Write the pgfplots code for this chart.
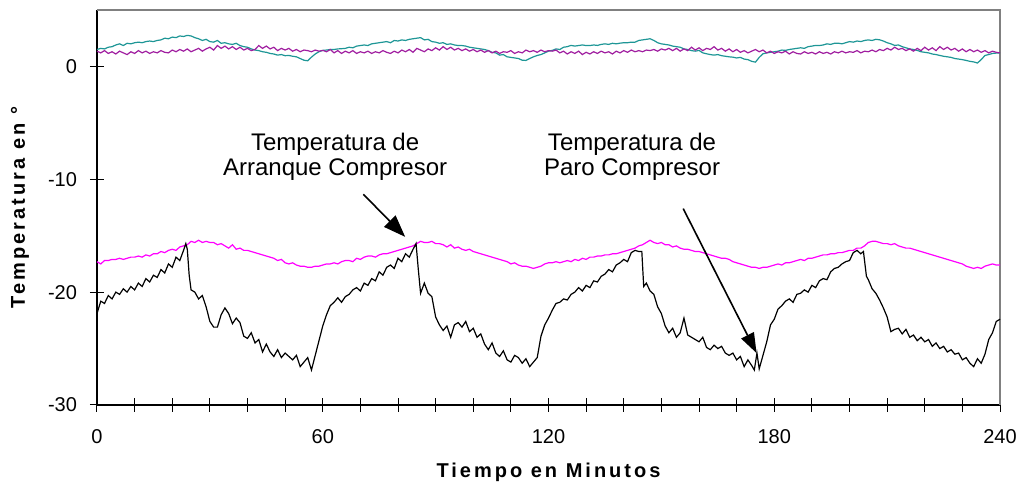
\documentclass[border=0pt]{standalone}
\usepackage{pgfplots}
\pgfplotsset{compat=1.18}
\usetikzlibrary{arrows.meta}
\usepackage{fontspec}
\setmainfont{Liberation Sans}
\definecolor{tealc}{RGB}{30,150,150}
\definecolor{purp}{RGB}{160,30,160}
\definecolor{magc}{RGB}{255,0,255}
\begin{document}
\begin{tikzpicture}
\begin{axis}[name=ax, scale only axis, width=451.5pt, height=197.5pt,
 xmin=0, xmax=240, ymin=-30, ymax=5,
 axis x line*=bottom, axis y line*=left,
 axis line style={line width=0.8pt, black},
 xtick={0,60,...,240}, minor xtick={10,20,...,230}, ytick={-30,-20,-10,0},
 tick align=center, major tick length=7pt, minor tick length=7pt,
 every tick/.style={black, line width=0.5pt},
 ticklabel style={font=\fontsize{10}{12}\selectfont},
 /pgf/number format/assume math mode=true,
 xticklabel style={yshift=-5pt}, yticklabel style={xshift=-3pt},
 xlabel={Tiempo en Minutos}, ylabel={Temperatura en °},
 label style={font=\fontsize{10}{12}\selectfont\bfseries\addfontfeatures{LetterSpace=15}},
 xlabel style={at={(axis description cs:0.5,-0.17)}, anchor=center},
 ylabel style={at={(axis description cs:-0.0853,0.5)}, anchor=center},
 clip=false]
\draw[color=gray, line width=1pt] (rel axis cs:0,1) -- (rel axis cs:1,1) -- (rel axis cs:1,0);
% teal
\addplot[tealc, line width=0.6pt] coordinates {
(0,1.5)(1,1.6)(2,1.55)(3,1.7)(4,1.75)(5,1.9)(6,2.0)(7,1.85)(8,2.05)(9,2.0)(10,2.1)(11,2.15)(12,2.1)(13,2.2)(14,2.25)(15,2.2)(16,2.3)(17,2.35)(18,2.5)(19,2.45)(20,2.6)(21,2.55)(22,2.7)(23,2.65)(24,2.75)(25,2.7)(26,2.55)(27,2.45)(28,2.3)(29,2.4)(30,2.2)(31,2.15)(32,2.3)(33,2.05)(34,2.1)(35,2.0)(36,1.95)(37,2.05)(38,1.85)(39,1.75)(40,1.7)(41,1.55)(42,1.45)(43,1.4)(44,1.3)(45,1.25)(46,1.15)(47,1.1)(48,1.0)(49,1.05)(50,0.95)(51,0.97)(52,0.9)(53,0.85)(54,0.7)(55,0.55)(56,0.5)(57,0.82)(58,1.1)(59,1.3)(60,1.42)(61,1.45)(62,1.5)(63,1.5)(64,1.55)(65,1.57)(66,1.6)(67,1.7)(68,1.65)(69,1.8)(70,1.85)(71,1.9)(72,1.85)(73,2.0)(74,2.05)(75,2.1)(76,2.15)(77,2.2)(78,2.1)(79,2.3)(80,2.25)(81,2.35)(82,2.3)(83,2.4)(84,2.45)(85,2.5)(86,2.55)(87,2.35)(88,2.4)(89,2.2)(90,2.15)(91,2.05)(92,2.1)(93,1.95)(94,2.0)(95,1.9)(96,1.85)(97,1.85)(98,1.8)(99,1.7)(100,1.65)(101,1.6)(102,1.55)(103,1.5)(104,1.4)(105,1.25)(106,1.2)(107,1.0)(108,1.05)(109,0.85)(110,0.8)(111,0.75)(112,0.7)(113,0.55)(114,0.53)(115,0.7)(116,0.85)(117,0.97)(118,1.05)(119,1.2)(120,1.35)(121,1.42)(122,1.55)(123,1.5)(124,1.7)(125,1.75)(126,1.86)(127,1.8)(128,1.85)(129,1.9)(130,1.85)(131,1.85)(132,1.9)(133,1.86)(134,1.95)(135,2.0)(136,1.95)(137,2.05)(138,2.0)(139,2.06)(140,2.1)(141,2.1)(142,2.15)(143,2.15)(144,2.3)(145,2.35)(146,2.4)(147,2.45)(148,2.3)(149,2.1)(150,2.0)(151,1.95)(152,1.9)(153,1.8)(154,1.75)(155,1.7)(156,1.55)(157,1.5)(158,1.4)(159,1.35)(160,1.42)(161,1.2)(162,1.12)(163,1.05)(164,1.0)(165,1.05)(166,0.95)(167,0.9)(168,0.85)(169,0.82)(170,0.75)(171,0.8)(172,0.65)(173,0.6)(174,0.45)(175,0.38)(176,0.8)(177,1.12)(178,1.2)(179,1.25)(180,1.3)(181,1.35)(182,1.45)(183,1.42)(184,1.5)(185,1.55)(186,1.6)(187,1.65)(188,1.6)(189,1.75)(190,1.8)(191,1.86)(192,1.85)(193,1.9)(194,2.0)(195,1.95)(196,2.05)(197,2.06)(198,2.0)(199,2.1)(200,2.2)(201,2.15)(202,2.25)(203,2.2)(204,2.3)(205,2.35)(206,2.3)(207,2.4)(208,2.36)(209,2.25)(210,2.1)(211,2.0)(212,1.86)(213,1.9)(214,1.75)(215,1.65)(216,1.55)(217,1.5)(218,1.42)(219,1.3)(220,1.25)(221,1.2)(222,1.1)(223,1.05)(224,0.97)(225,0.9)(226,0.85)(227,0.8)(228,0.7)(229,0.65)(230,0.6)(231,0.53)(232,0.45)(233,0.4)(234,0.3)(235,0.6)(236,0.97)(237,1.05)(238,1.15)(239,1.18)(240,1.2)
};
% purple
\addplot[purp, line width=0.6pt] coordinates {
(0,1.35)(1,1.2)(2,1.4)(3,1.15)(4,1.3)(5,1.1)(6,1.35)(7,1.2)(8,1.05)(9,1.3)(10,1.15)(11,1.4)(12,1.2)(13,1.35)(14,1.15)(15,1.3)(16,1.2)(17,1.4)(18,1.25)(19,1.2)(20,1.45)(21,1.3)(22,1.5)(23,1.35)(24,1.55)(25,1.3)(26,1.45)(27,1.6)(28,1.35)(29,1.55)(30,1.7)(31,1.45)(32,1.85)(33,1.6)(34,1.8)(35,1.55)(36,1.75)(37,1.5)(38,1.7)(39,1.45)(40,1.6)(41,1.4)(42,1.5)(43,1.85)(44,1.6)(45,1.8)(46,1.55)(47,1.7)(48,1.4)(49,1.6)(50,1.45)(51,1.6)(52,1.35)(53,1.5)(54,1.3)(55,1.45)(56,1.4)(57,1.3)(58,1.45)(59,1.35)(60,1.42)(61,1.3)(62,1.5)(63,1.2)(64,1.4)(65,1.15)(66,1.35)(67,1.2)(68,1.4)(69,1.15)(70,1.3)(71,1.2)(72,1.35)(73,1.15)(74,1.3)(75,1.2)(76,1.4)(77,1.25)(78,1.15)(79,1.35)(80,1.2)(81,1.45)(82,1.3)(83,1.5)(84,1.25)(85,1.6)(86,1.45)(87,1.3)(88,1.55)(89,1.4)(90,1.65)(91,1.45)(92,1.75)(93,1.5)(94,1.7)(95,1.45)(96,1.6)(97,1.4)(98,1.55)(99,1.35)(100,1.5)(101,1.3)(102,1.45)(103,1.25)(104,1.4)(105,1.2)(106,1.35)(107,1.15)(108,1.3)(109,1.25)(110,1.4)(111,1.15)(112,1.3)(113,1.2)(114,1.45)(115,1.3)(116,1.4)(117,1.25)(118,1.45)(119,1.3)(120,1.4)(121,1.35)(122,1.45)(123,1.2)(124,1.35)(125,1.1)(126,1.3)(127,1.15)(128,1.35)(129,1.05)(130,1.25)(131,1.1)(132,1.3)(133,1.15)(134,1.35)(135,1.2)(136,1.3)(137,1.1)(138,1.35)(139,1.2)(140,1.4)(141,1.25)(142,1.45)(143,1.3)(144,1.4)(145,1.3)(146,1.45)(147,1.4)(148,1.5)(149,1.35)(150,1.55)(151,1.45)(152,1.6)(153,1.4)(154,1.6)(155,1.35)(156,1.55)(157,1.4)(158,1.7)(159,1.45)(160,1.65)(161,1.4)(162,1.6)(163,1.5)(164,1.75)(165,1.45)(166,1.6)(167,1.35)(168,1.55)(169,1.3)(170,1.5)(171,1.25)(172,1.4)(173,1.2)(174,1.35)(175,1.5)(176,1.3)(177,1.45)(178,1.2)(179,1.35)(180,1.15)(181,1.3)(182,1.2)(183,1.35)(184,1.1)(185,1.3)(186,1.15)(187,1.1)(188,1.3)(189,1.15)(190,1.25)(191,1.1)(192,1.3)(193,1.15)(194,1.25)(195,1.1)(196,1.3)(197,1.2)(198,1.35)(199,1.2)(200,1.3)(201,1.25)(202,1.4)(203,1.2)(204,1.35)(205,1.3)(206,1.45)(207,1.3)(208,1.5)(209,1.4)(210,1.6)(211,1.45)(212,1.7)(213,1.5)(214,1.6)(215,1.4)(216,1.55)(217,1.35)(218,1.6)(219,1.4)(220,1.7)(221,1.45)(222,1.65)(223,1.4)(224,1.75)(225,1.5)(226,1.7)(227,1.45)(228,1.6)(229,1.35)(230,1.55)(231,1.3)(232,1.5)(233,1.3)(234,1.45)(235,1.25)(236,1.4)(237,1.2)(238,1.35)(239,1.25)(240,1.2)
};
% magenta
\addplot[magc, line width=0.6pt] coordinates {
(0,-17.3)(1,-17.5)(2,-17.2)(3,-17.2)(4,-17.1)(5,-17.1)(6,-17.0)(7,-17.1)(8,-17.0)(9,-16.9)(10,-16.9)(11,-16.8)(12,-16.9)(13,-16.7)(14,-16.8)(15,-16.6)(16,-16.6)(17,-16.4)(18,-16.5)(19,-16.3)(20,-16.2)(21,-16.3)(22,-16.0)(23,-15.9)(24,-15.8)(25,-15.5)(26,-15.6)(27,-15.4)(28,-15.6)(29,-15.5)(30,-15.6)(31,-15.6)(32,-15.8)(33,-15.7)(34,-15.9)(35,-16.1)(36,-15.8)(37,-16.2)(38,-16.1)(39,-16.3)(40,-16.3)(41,-16.4)(42,-16.5)(43,-16.6)(44,-16.7)(45,-16.8)(46,-16.9)(47,-17.0)(48,-17.2)(49,-17.1)(50,-17.4)(51,-17.5)(52,-17.4)(53,-17.6)(54,-17.7)(55,-17.7)(56,-17.8)(57,-17.8)(58,-17.7)(59,-17.7)(60,-17.6)(61,-17.5)(62,-17.5)(63,-17.4)(64,-17.5)(65,-17.3)(66,-17.2)(67,-17.2)(68,-17.3)(69,-17.0)(70,-17.1)(71,-16.9)(72,-16.8)(73,-16.8)(74,-16.9)(75,-16.7)(76,-16.6)(77,-16.6)(78,-16.5)(79,-16.4)(80,-16.3)(81,-16.2)(82,-16.1)(83,-16.0)(84,-15.9)(85,-15.7)(86,-15.5)(87,-15.6)(88,-15.6)(89,-15.5)(90,-15.7)(91,-15.7)(92,-15.8)(93,-16.0)(94,-15.8)(95,-16.1)(96,-16.0)(97,-16.2)(98,-16.3)(99,-16.2)(100,-16.4)(101,-16.5)(102,-16.6)(103,-16.7)(104,-16.8)(105,-16.9)(106,-17.0)(107,-17.1)(108,-17.2)(109,-17.3)(110,-17.5)(111,-17.4)(112,-17.6)(113,-17.7)(114,-17.7)(115,-17.8)(116,-17.9)(117,-17.8)(118,-17.7)(119,-17.5)(120,-17.4)(121,-17.4)(122,-17.3)(123,-17.4)(124,-17.3)(125,-17.2)(126,-17.3)(127,-17.1)(128,-17.2)(129,-17.0)(130,-17.1)(131,-16.9)(132,-16.9)(133,-16.8)(134,-16.8)(135,-16.7)(136,-16.7)(137,-16.6)(138,-16.6)(139,-16.5)(140,-16.4)(141,-16.3)(142,-16.2)(143,-16.1)(144,-15.9)(145,-15.8)(146,-15.6)(147,-15.4)(148,-15.6)(149,-15.7)(150,-15.6)(151,-15.8)(152,-15.8)(153,-16.0)(154,-15.9)(155,-16.1)(156,-16.2)(157,-16.2)(158,-16.3)(159,-16.4)(160,-16.4)(161,-16.5)(162,-16.6)(163,-16.7)(164,-16.8)(165,-16.9)(166,-17.0)(167,-17.0)(168,-17.1)(169,-17.3)(170,-17.4)(171,-17.5)(172,-17.6)(173,-17.7)(174,-17.8)(175,-17.8)(176,-17.9)(177,-17.8)(178,-17.8)(179,-17.7)(180,-17.6)(181,-17.5)(182,-17.6)(183,-17.4)(184,-17.4)(185,-17.3)(186,-17.2)(187,-17.1)(188,-17.2)(189,-17.0)(190,-17.0)(191,-16.9)(192,-16.8)(193,-16.7)(194,-16.7)(195,-16.6)(196,-16.6)(197,-16.5)(198,-16.5)(199,-16.4)(200,-16.3)(201,-16.3)(202,-16.1)(203,-16.1)(204,-15.9)(205,-15.6)(206,-15.5)(207,-15.5)(208,-15.6)(209,-15.7)(210,-15.7)(211,-15.8)(212,-15.7)(213,-15.9)(214,-16.0)(215,-16.1)(216,-16.1)(217,-16.2)(218,-16.3)(219,-16.4)(220,-16.5)(221,-16.6)(222,-16.7)(223,-16.8)(224,-16.9)(225,-17.0)(226,-17.1)(227,-17.2)(228,-17.3)(229,-17.4)(230,-17.5)(231,-17.7)(232,-17.8)(233,-17.9)(234,-17.8)(235,-17.9)(236,-17.7)(237,-17.6)(238,-17.5)(239,-17.6)(240,-17.6)
};
% black
\addplot[black, line width=0.6pt] coordinates {
(0,-21.9)(1,-20.8)(2,-21.0)(3,-20.3)(4,-20.6)(5,-20.0)(6,-20.2)(7,-19.7)(8,-20.0)(9,-19.5)(10,-19.8)(11,-19.2)(12,-19.5)(13,-18.8)(14,-19.1)(15,-18.5)(16,-18.7)(17,-18.0)(18,-18.3)(19,-17.5)(20,-17.8)(21,-16.9)(22,-17.2)(23,-16.3)(23.6,-15.7)(24,-16.2)(24.5,-18.5)(25,-19.8)(26,-20.0)(27,-20.6)(28,-20.3)(29,-21.3)(30,-22.6)(31,-23.1)(32,-23.1)(33,-22.0)(34,-21.4)(35,-21.9)(36,-22.8)(37,-22.3)(38,-22.7)(39,-23.9)(40,-24.1)(41,-23.6)(42,-24.5)(43,-24.2)(44,-25.3)(45,-24.6)(46,-25.3)(47,-25.7)(48,-25.1)(49,-25.8)(50,-25.4)(51,-25.7)(52,-26.0)(53,-25.6)(54,-26.6)(55,-26.2)(56,-25.8)(57,-26.9)(58,-25.6)(59,-24.3)(60,-23.0)(61,-22.0)(62,-21.2)(63,-20.9)(64,-20.5)(65,-20.9)(66,-20.4)(67,-20.2)(68,-19.8)(69,-19.6)(70,-19.9)(71,-19.2)(72,-19.4)(73,-18.8)(74,-19.0)(75,-18.2)(76,-18.5)(77,-17.8)(78,-17.6)(79,-17.9)(80,-17.0)(81,-17.3)(82,-16.6)(83,-16.9)(84,-16.2)(84.8,-15.7)(85.4,-18.0)(86,-20.1)(87,-19.2)(88,-20.1)(89,-20.4)(90,-22.2)(91,-22.9)(92,-23.4)(93,-23.0)(94,-24.0)(95,-22.9)(96,-22.7)(97,-23.1)(98,-22.6)(99,-23.5)(100,-23.2)(101,-24.0)(102,-23.7)(103,-24.6)(104,-25.1)(105,-24.5)(106,-25.4)(107,-25.7)(108,-25.2)(109,-26.0)(110,-26.2)(111,-25.6)(112,-25.8)(113,-26.3)(114,-25.9)(115,-26.6)(116,-26.2)(117,-25.8)(118,-23.9)(119,-22.9)(120,-22.3)(121,-21.6)(122,-21.0)(123,-20.9)(124,-20.6)(125,-20.7)(126,-20.2)(127,-20.0)(128,-19.6)(129,-19.9)(130,-19.4)(131,-19.6)(132,-19.0)(133,-19.1)(134,-18.6)(135,-18.4)(136,-18.0)(137,-18.2)(138,-17.6)(139,-17.4)(140,-17.1)(141,-17.3)(142,-16.5)(143,-16.3)(144,-16.4)(144.8,-16.4)(145.3,-19.5)(146,-19.2)(147,-19.9)(148,-20.2)(149,-21.3)(150,-21.9)(151,-23.0)(152,-23.6)(153,-23.2)(154,-24.0)(155,-23.6)(156,-22.3)(157,-23.8)(158,-24.0)(159,-24.2)(160,-24.4)(161,-24.0)(162,-24.9)(163,-25.1)(164,-24.7)(165,-25.0)(166,-24.8)(167,-25.4)(168,-25.6)(169,-25.4)(170,-26.0)(171,-25.7)(172,-26.6)(173,-26.0)(174,-26.5)(174.7,-26.9)(175.4,-25.4)(176,-26.8)(177,-25.6)(178,-24.4)(179,-22.9)(180,-22.4)(181,-21.5)(182,-21.2)(183,-20.8)(184,-20.6)(185,-20.9)(186,-20.2)(187,-20.1)(188,-19.8)(189,-20.0)(190,-19.4)(191,-19.6)(192,-19.0)(193,-18.8)(194,-18.9)(195,-18.2)(196,-17.9)(197,-17.8)(198,-17.5)(199,-17.3)(200,-17.2)(201,-16.5)(202,-16.3)(203,-16.6)(203.7,-16.4)(204.5,-18.6)(205,-18.9)(206,-19.7)(207,-20.1)(208,-20.7)(209,-21.4)(210,-22.2)(211,-23.5)(212,-23.3)(213,-23.2)(214,-23.7)(215,-23.3)(216,-24.0)(217,-23.8)(218,-24.3)(219,-24.0)(220,-24.4)(221,-24.2)(222,-24.8)(223,-24.5)(224,-25.0)(225,-24.8)(226,-25.3)(227,-25.1)(228,-25.5)(229,-25.4)(230,-26.0)(231,-25.8)(232,-26.3)(233,-26.6)(234,-25.9)(235,-26.3)(236,-25.5)(237,-24.2)(238,-23.6)(239,-22.6)(240,-22.4)
};
\node[align=center, font=\fontsize{12}{12.5}\selectfont] at (axis cs:63.3,-8.05) {Temperatura de\\Arranque Compresor};
\node[align=center, font=\fontsize{12}{12.5}\selectfont] at (axis cs:142.2,-8.05) {Temperatura de\\Paro Compresor};
\draw[-{Triangle[length=11pt,width=8pt]}, line width=0.8pt] (axis cs:70.8,-11.33) -- (axis cs:81.9,-15.1);
\draw[-{Triangle[length=10pt,width=7pt]}, line width=0.8pt] (axis cs:155.8,-12.6) -- (axis cs:175.3,-25.4);
\end{axis}
\pgfresetboundingbox
\path ([shift={(-48.5pt,-40pt)}]ax.south west) rectangle ([shift={(9.5pt,5pt)}]ax.north east);
\end{tikzpicture}
\end{document}
